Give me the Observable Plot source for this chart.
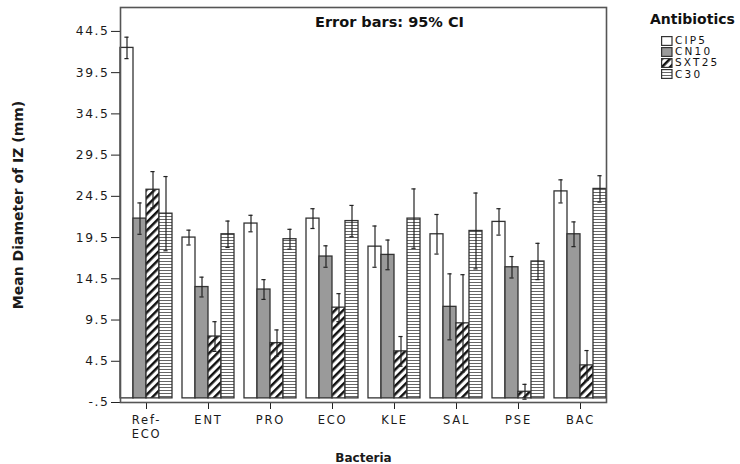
<!DOCTYPE html>
<html>
<head>
<meta charset="utf-8">
<script src="https://cdn.jsdelivr.net/npm/d3@7"></script>
<script src="https://cdn.jsdelivr.net/npm/@observablehq/plot@0.6"></script>
<style>
  body { margin: 0; background: #fff; }
  #wrap { position: relative; width: 740px; height: 464px; font-family: "DejaVu Sans", sans-serif; color: #111; }
  #note { position: absolute; left: 315px; top: 14px; font: bold 14.5px "DejaVu Sans", sans-serif; white-space: nowrap; }
  #legend { position: absolute; left: 650px; top: 11px; }
  #legend .title { font: bold 14px "DejaVu Sans", sans-serif; line-height: 17px; margin-bottom: 7px; }
  #legend .item { display: flex; align-items: center; height: 11.2px; margin-left: 11px; font: 10.5px/11px "DejaVu Sans", sans-serif; letter-spacing: 2.2px; }
  #legend .item svg { margin-right: 2px; }
  #chart svg text { font-family: "DejaVu Sans", sans-serif !important; fill: #1a1a1a; }
  #chart g[aria-label="y-axis tick label"] text { font-size: 12.3px !important; letter-spacing: 1.6px; }
  #chart g[aria-label="fx-axis tick label"] text { font-size: 11.5px !important; letter-spacing: 1.8px; }
  #chart g[aria-label="y-axis label"] text { font-size: 14px !important; font-weight: bold; }
  #chart g[aria-label="fx-axis label"] text { font-size: 12px !important; font-weight: bold; }
</style>
</head>
<body>
<div id="wrap">
  <svg width="0" height="0" style="position:absolute">
    <defs>
      <pattern id="diag" width="5.8" height="5.8" patternUnits="userSpaceOnUse" patternTransform="rotate(45)">
        <rect width="5.8" height="5.8" fill="#fff"></rect>
        <rect width="2.5" height="5.8" fill="#111"></rect>
      </pattern>
      <pattern id="hstripe" width="4" height="3" patternUnits="userSpaceOnUse">
        <rect width="4" height="3" fill="#fff"></rect>
        <rect width="4" height="1" fill="#666"></rect>
      </pattern>
    </defs>
  </svg>
  <div id="chart"></div>
  <div id="note">Error bars: 95% CI</div>
  <div id="legend"></div>
</div>
<script>
const bacteria = ["Ref-ECO", "ENT", "PRO", "ECO", "KLE", "SAL", "PSE", "BAC"];
const bacteriaLabels = ["Ref-\nECO", "ENT", "PRO", "ECO", "KLE", "SAL", "PSE", "BAC"];
const antibiotics = ["CIP5", "CN10", "SXT25", "C30"];
const fills = ["#ffffff", "#9a9a9a", "url(#diag)", "url(#hstripe)"];

// mean inhibition zone diameter (mm)
const meanCIP5  = [42.5, 19.5, 21.2, 21.8, 18.4, 19.9, 21.4, 25.1];
const meanCN10  = [21.8, 13.5, 13.2, 17.2, 17.4, 11.1, 15.9, 19.9];
const meanSXT25 = [25.3, 7.5, 6.7, 11.0, 5.7, 9.1, 0.8, 4.0];
const meanC30   = [22.4, 19.9, 19.3, 21.5, 21.8, 20.3, 16.6, 25.4];

// 95% CI half-widths
const ciCIP5  = [1.3, 0.9, 1.0, 1.2, 2.5, 2.4, 1.6, 1.4];
const ciCN10  = [1.9, 1.2, 1.2, 1.3, 1.8, 4.0, 1.3, 1.5];
const ciSXT25 = [2.2, 1.8, 1.6, 1.7, 1.8, 5.9, 0.9, 1.8];
const ciC30   = [4.5, 1.6, 1.2, 1.9, 3.6, 4.6, 2.2, 1.6];

const yTicks = [-0.5, 4.5, 9.5, 14.5, 19.5, 24.5, 29.5, 34.5, 39.5, 44.5];
const yTickLabels = ["-.5", "4.5", "9.5", "14.5", "19.5", "24.5", "29.5", "34.5", "39.5", "44.5"];

const means = {CIP5: meanCIP5, CN10: meanCN10, SXT25: meanSXT25, C30: meanC30};
const cis = {CIP5: ciCIP5, CN10: ciCN10, SXT25: ciSXT25, C30: ciC30};

const rows = bacteria.flatMap((b, i) => antibiotics.map(a => ({
  bacteria: b, antibiotic: a, mean: means[a][i],
  lo: means[a][i] - cis[a][i], hi: means[a][i] + cis[a][i]
})));

const labelOf = new Map(bacteria.map((b, i) => [b, bacteriaLabels[i]]));

const chart = Plot.plot({
  width: 740,
  height: 464,
  marginLeft: 89,
  marginRight: 102,
  marginTop: 7,
  marginBottom: 62,
  style: {fontFamily: "DejaVu Sans, sans-serif", fontSize: "12px", color: "#222", background: "transparent"},
  fx: {domain: bacteria, paddingInner: 0.154, paddingOuter: 0.44, axis: null},
  x: {domain: antibiotics, axis: null, padding: 0},
  y: {
    domain: [-0.5, 47.4], ticks: yTicks,
    tickFormat: d => yTickLabels[yTicks.indexOf(d)],
    tickSize: 9, tickPadding: 2,
    label: "Mean Diameter of IZ (mm)", labelAnchor: "center", labelOffset: 107, labelArrow: "none"
  },
  color: {domain: antibiotics, range: fills},
  marks: [
    Plot.barY(rows, {fx: "bacteria", x: "antibiotic", y: "mean", fill: "antibiotic", stroke: "#333", strokeWidth: 1.3}),
    Plot.ruleX(rows, {fx: "bacteria", x: "antibiotic", y1: "lo", y2: "hi", stroke: "#222", strokeWidth: 1.2}),
    Plot.tickY(rows, {fx: "bacteria", x: "antibiotic", y: "lo", stroke: "#222", strokeWidth: 1.2, insetLeft: 4.4, insetRight: 4.4}),
    Plot.tickY(rows, {fx: "bacteria", x: "antibiotic", y: "hi", stroke: "#222", strokeWidth: 1.2, insetLeft: 4.4, insetRight: 4.4}),
    Plot.axisFx({
      anchor: "bottom", tickSize: 7, tickPadding: 5, lineHeight: 1.2,
      tickFormat: d => labelOf.get(d),
      label: "Bacteria", labelAnchor: "center", labelOffset: 59
    }),
    Plot.frame({facet: "super", stroke: "#555", strokeWidth: 1.6})
  ]
});
// strip any arrow Plot may append to the y label
chart.querySelectorAll('g[aria-label="y-axis label"] text').forEach(t => {
  t.textContent = t.textContent.replace(/\s*[↑→↓←]\s*/g, "");
});
document.getElementById("chart").append(chart);

// legend
const legend = document.getElementById("legend");
const title = document.createElement("div");
title.className = "title";
title.textContent = "Antibiotics";
legend.append(title);
antibiotics.forEach((a, i) => {
  const item = document.createElement("div");
  item.className = "item";
  item.innerHTML = `<svg width="12" height="10"><rect x="0.6" y="0.6" width="10.4" height="8.8" fill="${fills[i]}" stroke="#333" stroke-width="1.2"></rect></svg><span>${a}</span>`;
  legend.append(item);
});
</script>
</body>
</html>
